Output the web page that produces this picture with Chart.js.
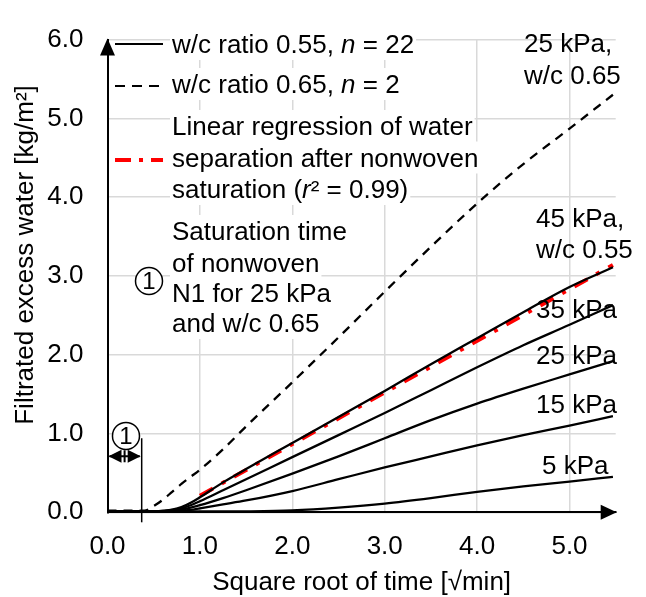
<!DOCTYPE html>
<html>
<head>
<meta charset="utf-8">
<script src="https://cdn.jsdelivr.net/npm/chart.js@4.4.1/dist/chart.umd.min.js"></script>
<style>
  body { margin: 0; background: #fff; }
  canvas { display: block; }
</style>
</head>
<body>
<canvas id="filtrationChart" width="646" height="597"></canvas>
<script>
// Square root of time [√min] for all measured curves
const sqrtTime = [0, 0.2, 0.4, 0.5, 0.6, 0.7, 0.8, 0.9, 1.0, 1.25, 1.5, 2.0, 2.5, 3.0, 3.5, 4.0, 4.5, 5.0, 5.47];

// Filtrated excess water [kg/m²], w/c 0.55
const water45kPa = [0.01, 0.01, 0.01, 0.01, 0.02, 0.035, 0.065, 0.12, 0.19, 0.38, 0.55, 0.88, 1.21, 1.54, 1.88, 2.21, 2.54, 2.86, 3.11];
const water35kPa = [0.01, 0.01, 0.01, 0.01, 0.015, 0.03, 0.05, 0.09, 0.14, 0.28, 0.42, 0.7, 0.98, 1.26, 1.55, 1.84, 2.12, 2.38, 2.63];
const water25kPa = [0.01, 0.01, 0.01, 0.01, 0.01, 0.02, 0.035, 0.06, 0.09, 0.18, 0.28, 0.49, 0.71, 0.94, 1.17, 1.38, 1.57, 1.75, 1.92];
const water15kPa = [0.01, 0.01, 0.01, 0.01, 0.01, 0.01, 0.02, 0.03, 0.05, 0.1, 0.15, 0.27, 0.42, 0.57, 0.71, 0.85, 0.98, 1.1, 1.22];
const water5kPa  = [0.01, 0.01, 0.01, 0.01, 0.01, 0.01, 0.01, 0.01, 0.01, 0.01, 0.012, 0.025, 0.06, 0.11, 0.18, 0.26, 0.33, 0.39, 0.45];

// w/c 0.65 at 25 kPa
const water25kPaWc065 = [0.02, 0.02, 0.02, 0.08, 0.16, 0.26, 0.36, 0.45, 0.54, 0.8, 1.09, 1.65, 2.22, 2.8, 3.37, 3.92, 4.42, 4.87, 5.3];

// linear regression after nonwoven saturation (45 kPa)
const regressionTime = [1.0, 5.47];
const regressionWater = [0.21, 3.14];

// saturation time of nonwoven N1 (25 kPa, w/c 0.65)
const saturationTime = 0.37;

const xTickValues = [0, 1, 2, 3, 4, 5];
const yTickValues = [0, 1, 2, 3, 4, 5, 6];

const FONT = '"Liberation Sans", Arial, sans-serif';
const TEXT_SIZE = 26;

function font(size, italic) {
    return (italic ? 'italic ' : '') + size + 'px ' + FONT;
}

function toPoints(xs, ys) {
    return xs.map((x, i) => ({ x: x, y: ys[i] }));
}

function richWidth(ctx, parts) {
    let w = 0;
    parts.forEach(p => {
        ctx.font = font(TEXT_SIZE, p.i);
        w += ctx.measureText(p.t).width;
    });
    return w;
}

function drawRich(ctx, x, y, parts) {
    let cx = x;
    parts.forEach(p => {
        ctx.font = font(TEXT_SIZE, p.i);
        ctx.fillText(p.t, cx, y);
        cx += ctx.measureText(p.t).width;
    });
}

function circledOne(ctx, x, y) {
    ctx.beginPath();
    ctx.arc(x, y, 13.5, 0, Math.PI * 2);
    ctx.fillStyle = '#fff';
    ctx.fill();
    ctx.lineWidth = 1.5;
    ctx.strokeStyle = '#000';
    ctx.stroke();
    ctx.fillStyle = '#000';
    ctx.font = font(24, false);
    ctx.textAlign = 'center';
    ctx.textBaseline = 'middle';
    ctx.fillText('1', x, y + 1);
    ctx.textAlign = 'left';
    ctx.textBaseline = 'alphabetic';
}

// legend block, one entry per line of text
const legendLines = [
    { y: 53, parts: [{ t: 'w/c ratio 0.55, ' }, { t: 'n', i: true }, { t: ' = 22' }] },
    { y: 93, parts: [{ t: 'w/c ratio 0.65, ' }, { t: 'n', i: true }, { t: ' = 2' }] },
    { y: 135, parts: [{ t: 'Linear regression of water' }] },
    { y: 166.5, parts: [{ t: 'separation after nonwoven' }] },
    { y: 198, parts: [{ t: 'saturation (' }, { t: 'r', i: true }, { t: '² = 0.99)' }] },
    { y: 240, parts: [{ t: 'Saturation time' }] },
    { y: 271.5, parts: [{ t: 'of nonwoven' }] },
    { y: 302, parts: [{ t: 'N1 for 25 kPa' }] },
    { y: 332, parts: [{ t: 'and w/c 0.65' }] }
];
const legendLeft = 172;

const curveLabels = [
    { x: 524, y: 52, t: '25 kPa,' },
    { x: 524, y: 84, t: 'w/c 0.65' },
    { x: 536, y: 227, t: '45 kPa,' },
    { x: 536, y: 258, t: 'w/c 0.55' },
    { x: 536, y: 318, t: '35 kPa' },
    { x: 536, y: 364, t: '25 kPa' },
    { x: 536, y: 413, t: '15 kPa' },
    { x: 542, y: 474, t: '5 kPa' }
];

const annotations = {
    id: 'annotations',
    beforeDatasetsDraw(chart) {
        const ctx = chart.ctx;
        ctx.save();
        ctx.fillStyle = '#fff';
        legendLines.forEach(line => {
            const w = richWidth(ctx, line.parts);
            ctx.fillRect(legendLeft - 2, line.y - 25, w + 4, 32);
        });
        ctx.restore();
    },
    afterDraw(chart) {
        const ctx = chart.ctx;
        const area = chart.chartArea;
        const xs = chart.scales.x;
        const ys = chart.scales.y;
        ctx.save();

        // axis arrowheads
        ctx.fillStyle = '#000';
        ctx.beginPath();
        ctx.moveTo(area.left, area.top - 1);
        ctx.lineTo(area.left - 7.5, area.top + 16);
        ctx.lineTo(area.left + 7.5, area.top + 16);
        ctx.closePath();
        ctx.fill();
        ctx.beginPath();
        ctx.moveTo(area.right + 1, area.bottom);
        ctx.lineTo(area.right - 15, area.bottom - 7.5);
        ctx.lineTo(area.right - 15, area.bottom + 7.5);
        ctx.closePath();
        ctx.fill();

        // legend samples
        ctx.strokeStyle = '#000';
        ctx.lineWidth = 2.2;
        ctx.beginPath();
        ctx.moveTo(115, 44);
        ctx.lineTo(163, 44);
        ctx.stroke();
        ctx.setLineDash([10, 7]);
        ctx.beginPath();
        ctx.moveTo(115, 86);
        ctx.lineTo(163, 86);
        ctx.stroke();
        ctx.strokeStyle = '#ff0000';
        ctx.lineWidth = 4;
        ctx.setLineDash([16, 8, 4, 8]);
        ctx.beginPath();
        ctx.moveTo(115, 160);
        ctx.lineTo(163, 160);
        ctx.stroke();
        ctx.setLineDash([]);
        circledOne(ctx, 149, 281);

        // legend text
        ctx.fillStyle = '#000';
        legendLines.forEach(line => drawRich(ctx, legendLeft, line.y, line.parts));

        // curve labels
        ctx.font = font(TEXT_SIZE, false);
        curveLabels.forEach(l => ctx.fillText(l.t, l.x, l.y));

        // saturation time marker
        const sx = xs.getPixelForValue(saturationTime);
        ctx.strokeStyle = '#000';
        ctx.lineWidth = 1.5;
        ctx.beginPath();
        ctx.moveTo(sx, ys.getPixelForValue(0.94));
        ctx.lineTo(sx, area.bottom + 10);
        ctx.stroke();
        const ay = ys.getPixelForValue(0.71);
        const mid = (area.left + sx) / 2;
        ctx.lineWidth = 2;
        ctx.beginPath();
        ctx.moveTo(area.left + 2, ay);
        ctx.lineTo(sx - 2, ay);
        ctx.moveTo(mid, ay - 6);
        ctx.lineTo(mid, ay + 6);
        ctx.stroke();
        ctx.beginPath();
        ctx.moveTo(area.left + 1, ay);
        ctx.lineTo(area.left + 14, ay - 6.5);
        ctx.lineTo(area.left + 14, ay + 6.5);
        ctx.closePath();
        ctx.moveTo(sx - 1, ay);
        ctx.lineTo(sx - 14, ay - 6.5);
        ctx.lineTo(sx - 14, ay + 6.5);
        ctx.closePath();
        ctx.fill();
        circledOne(ctx, xs.getPixelForValue(0.2), ys.getPixelForValue(0.97));

        // axis titles
        ctx.fillStyle = '#000';
        ctx.font = font(TEXT_SIZE, false);
        ctx.textAlign = 'center';
        ctx.textBaseline = 'alphabetic';
        ctx.fillText('Square root of time [√min]', (area.left + area.right) / 2, 590);
        ctx.translate(33, 255);
        ctx.rotate(-Math.PI / 2);
        ctx.fillText('Filtrated excess water [kg/m²]', 0, 0);

        ctx.restore();
    }
};

function solidCurve(values) {
    return {
        data: toPoints(sqrtTime, values),
        borderColor: '#000',
        borderWidth: 2.3,
        pointRadius: 0,
        cubicInterpolationMode: 'monotone',
        showLine: true
    };
}

new Chart(document.getElementById('filtrationChart'), {
    type: 'scatter',
    data: {
        datasets: [
            solidCurve(water5kPa),
            solidCurve(water15kPa),
            solidCurve(water25kPa),
            solidCurve(water35kPa),
            solidCurve(water45kPa),
            {
                data: toPoints(sqrtTime, water25kPaWc065),
                borderColor: '#000',
                borderWidth: 2.3,
                borderDash: [9, 7],
                pointRadius: 0,
                cubicInterpolationMode: 'monotone',
                showLine: true
            },
            {
                data: toPoints(regressionTime, regressionWater),
                borderColor: '#ff0000',
                borderWidth: 4,
                borderDash: [15, 10, 4, 10],
                pointRadius: 0,
                showLine: true
            }
        ]
    },
    options: {
        responsive: false,
        animation: false,
        devicePixelRatio: 1,
        layout: { padding: { top: 25.7, right: 30.3, bottom: 0, left: 0 } },
        plugins: {
            legend: { display: false },
            tooltip: { enabled: false }
        },
        scales: {
            x: {
                type: 'linear',
                min: 0,
                max: 5.5,
                afterBuildTicks: scale => { scale.ticks = xTickValues.map(v => ({ value: v })); },
                afterFit: scale => { scale.height = 84.7; },
                grid: { color: '#d9d9d9', lineWidth: 1.5, drawTicks: false },
                border: { display: true, color: '#000', width: 2 },
                ticks: {
                    padding: 19,
                    color: '#000',
                    font: { family: FONT, size: TEXT_SIZE },
                    callback: v => v.toFixed(1)
                }
            },
            y: {
                type: 'linear',
                min: 0,
                max: 6,
                afterBuildTicks: scale => { scale.ticks = yTickValues.map(v => ({ value: v })); },
                afterFit: scale => { scale.width = 107.5; },
                grid: { color: '#d9d9d9', lineWidth: 1.5, drawTicks: false },
                border: { display: true, color: '#000', width: 2 },
                ticks: {
                    padding: 24,
                    color: '#000',
                    font: { family: FONT, size: TEXT_SIZE },
                    callback: v => v.toFixed(1)
                }
            }
        }
    },
    plugins: [annotations]
});
</script>
</body>
</html>
